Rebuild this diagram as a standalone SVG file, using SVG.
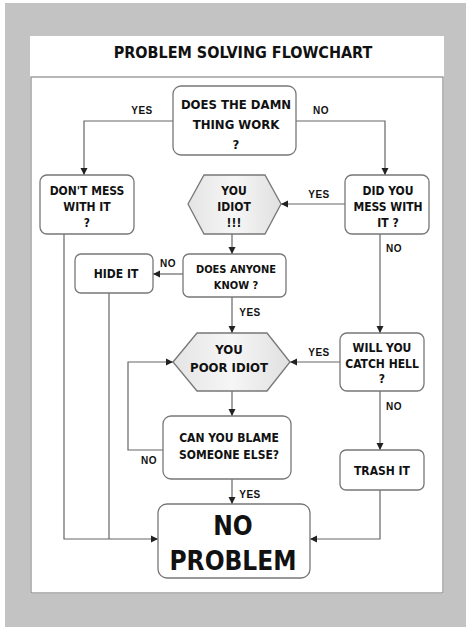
<svg xmlns="http://www.w3.org/2000/svg" width="474" height="630" viewBox="0 0 474 630">
<style>
.n{fill:#fff;stroke:#777;stroke-width:1.3}
.h{fill:url(#g);stroke:#777;stroke-width:1.3}
.t{font-family:"DejaVu Sans Condensed","DejaVu Sans",sans-serif;font-weight:bold;font-size:12px;text-anchor:middle;fill:#111}
.l{font-family:"Liberation Sans",Arial,sans-serif;font-weight:bold;font-size:10px;text-anchor:middle;fill:#111;letter-spacing:0.5px}
.c{fill:none;stroke:#666;stroke-width:1.2}
</style>
<defs>
<linearGradient id="g" x1="0" y1="0" x2="1" y2="0"><stop offset="0" stop-color="#e4e4e4"/><stop offset="0.5" stop-color="#f6f6f6"/><stop offset="1" stop-color="#e0e0e0"/></linearGradient>
<marker id="a" markerWidth="8" markerHeight="8" refX="7" refY="4" orient="auto" markerUnits="userSpaceOnUse"><path d="M0,0.5 L7,4 L0,7.5z" fill="#222"/></marker>
</defs>
<rect x="5" y="3" width="461" height="624" fill="#c3c3c3"/>
<rect x="30" y="36" width="414" height="558" fill="#fff"/>
<rect x="31" y="77" width="412" height="516" fill="none" stroke="#888" stroke-width="1.2"/>
<text x="243" y="58" class="t" style="font-size:16px">PROBLEM SOLVING FLOWCHART</text>
<g id="connectors">
<path class="c" d="M173,121 H84 V175" marker-end="url(#a)"/>
<path class="c" d="M296,121 H385 V175" marker-end="url(#a)"/>
<path class="c" d="M345,204 H281" marker-end="url(#a)"/>
<path class="c" d="M380,234 V333" marker-end="url(#a)"/>
<path class="c" d="M232,234 V254" marker-end="url(#a)"/>
<path class="c" d="M183,274 H153" marker-end="url(#a)"/>
<path class="c" d="M232,297 V333" marker-end="url(#a)"/>
<path class="c" d="M340,362 H290" marker-end="url(#a)"/>
<path class="c" d="M232,391 V416" marker-end="url(#a)"/>
<path class="c" d="M163,450 H128 V362 H173" marker-end="url(#a)"/>
<path class="c" d="M232,479 V504" marker-end="url(#a)"/>
<path class="c" d="M380,391 V450" marker-end="url(#a)"/>
<path class="c" d="M380,490 V539 H310" marker-end="url(#a)"/>
<path class="c" d="M64,234 V539 H158" marker-end="url(#a)"/>
<path class="c" d="M109,293 V539"/>
<text x="142" y="114" class="l">YES</text>
<text x="321" y="114" class="l">NO</text>
<text x="319" y="198" class="l">YES</text>
<text x="394" y="252" class="l">NO</text>
<text x="168" y="267" class="l">NO</text>
<text x="250" y="316" class="l">YES</text>
<text x="319" y="356" class="l">YES</text>
<text x="394" y="410" class="l">NO</text>
<text x="149" y="464" class="l">NO</text>
<text x="250" y="498" class="l">YES</text>
</g>
<g id="work"><rect class="n" x="173" y="86" width="123" height="69" rx="8"/><text class="t" x="236" y="109" style="font-size:13px">DOES THE DAMN</text><text class="t" x="236" y="129" style="font-size:13px">THING WORK</text><text class="t" x="236" y="149" style="font-size:13px">?</text></g>
<g id="dontmess"><rect class="n" x="40" y="175" width="94" height="59" rx="7"/><text class="t" x="87" y="195">DON'T MESS</text><text class="t" x="87" y="211">WITH IT</text><text class="t" x="87" y="227">?</text></g>
<g id="idiot"><polygon class="h" points="188,204 204,175 265,175 281,204 265,234 204,234"/><text class="t" x="234" y="195">YOU</text><text class="t" x="234" y="211">IDIOT</text><text class="t" x="234" y="227">!!!</text></g>
<g id="didyou"><rect class="n" x="345" y="175" width="84" height="59" rx="7"/><text class="t" x="388" y="195">DID YOU</text><text class="t" x="388" y="211">MESS WITH</text><text class="t" x="388" y="227">IT ?</text></g>
<g id="hide"><rect class="n" x="75" y="254" width="78" height="39" rx="6"/><text class="t" x="116" y="278">HIDE IT</text></g>
<g id="anyone"><rect class="n" x="183" y="254" width="103" height="43" rx="6"/><text class="t" x="236" y="273" style="font-size:11px">DOES ANYONE</text><text class="t" x="236" y="289" style="font-size:11px">KNOW ?</text></g>
<g id="poor"><polygon class="h" points="173,362 197,333 267,333 290,362 267,391 197,391"/><text class="t" x="229" y="354" style="font-size:13px">YOU</text><text class="t" x="229" y="372" style="font-size:13px">POOR IDIOT</text></g>
<g id="hell"><rect class="n" x="340" y="333" width="84" height="58" rx="7"/><text class="t" x="382" y="352">WILL YOU</text><text class="t" x="382" y="368">CATCH HELL</text><text class="t" x="382" y="383">?</text></g>
<g id="blame"><rect class="n" x="163" y="416" width="128" height="63" rx="8"/><text class="t" x="229" y="442">CAN YOU BLAME</text><text class="t" x="229" y="459">SOMEONE ELSE?</text></g>
<g id="trash"><rect class="n" x="340" y="450" width="84" height="40" rx="6"/><text class="t" x="382" y="475">TRASH IT</text></g>
<g id="noproblem"><rect class="n" x="158" y="504" width="152" height="74" rx="9"/><text class="t" x="233" y="535" style="font-size:26px">NO</text><text class="t" x="233" y="570" style="font-size:26px">PROBLEM</text></g>
</svg>
